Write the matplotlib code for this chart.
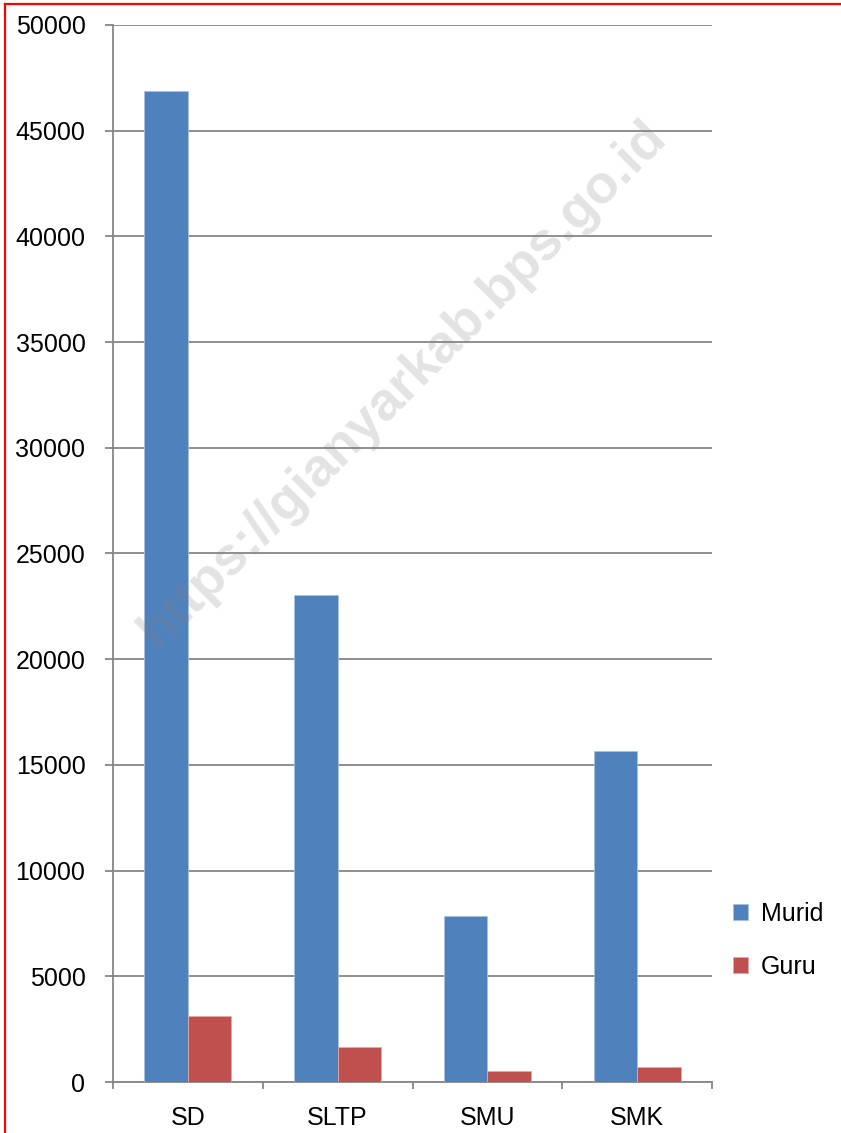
import matplotlib.pyplot as plt
import numpy as np
from matplotlib.lines import Line2D

# Data
kategori = ['SD', 'SLTP', 'SMU', 'SMK']
murid = [46880, 23030, 7850, 15650]
guru = [3120, 1650, 520, 710]

plt.rcParams['font.family'] = ['Liberation Sans', 'DejaVu Sans']

fig = plt.figure(figsize=(8.41, 11.33), dpi=100)
ax = fig.add_axes([113 / 841, 1 - 1082 / 1133, (712 - 113) / 841, (1082 - 25) / 1133])

x = np.arange(len(kategori))
w = 0.29
ax.bar(x - w / 2, murid, w, color='#4F81BD', edgecolor='#a9c1e0', linewidth=0.6, label='Murid', zorder=3)
ax.bar(x + w / 2, guru, w, color='#C0504D', edgecolor='#e0a9a8', linewidth=0.6, label='Guru', zorder=3)

ax.set_xlim(-0.5, len(kategori) - 0.5)
ax.set_ylim(0, 50000)
ax.set_yticks(np.arange(0, 50001, 5000))
ax.yaxis.grid(True, color='#868686', linewidth=1.3, zorder=0)

ax.set_xticks(x)
ax.set_xticklabels(kategori)
ax.set_xticks(np.arange(-0.5, len(kategori)), minor=True)
ax.tick_params(axis='x', which='major', length=0, pad=17, labelsize=18)
ax.tick_params(axis='x', which='minor', length=5, width=1.3, color='#868686', direction='out')
ax.tick_params(axis='y', length=5.8, width=1.3, color='#868686', pad=14, labelsize=18)

for s in ['top', 'right']:
    ax.spines[s].set_visible(False)
for s in ['left', 'bottom']:
    ax.spines[s].set_color('#868686')
    ax.spines[s].set_linewidth(1.3)

# watermark
ax.text(0.483, 0.66, 'https://gianyarkab.bps.go.id', transform=ax.transAxes,
        rotation=45, fontsize=39, fontweight='bold', color='#808080', alpha=0.22,
        ha='center', va='center', zorder=4)

leg = ax.legend(loc='center left', bbox_to_anchor=(0.998, 0.134), frameon=False,
                fontsize=18, handlelength=0.6, handleheight=0.6, handletextpad=0.5,
                labelspacing=1.15)

# red border (top and left)
fig.add_artist(Line2D([5 / 841, 5 / 841], [0, 1 - 4 / 1133], transform=fig.transFigure,
                      color='red', linewidth=1.6))
fig.add_artist(Line2D([5 / 841, 1], [1 - 4 / 1133, 1 - 4 / 1133], transform=fig.transFigure,
                      color='red', linewidth=1.6))

fig.savefig('out.png', dpi=100)
